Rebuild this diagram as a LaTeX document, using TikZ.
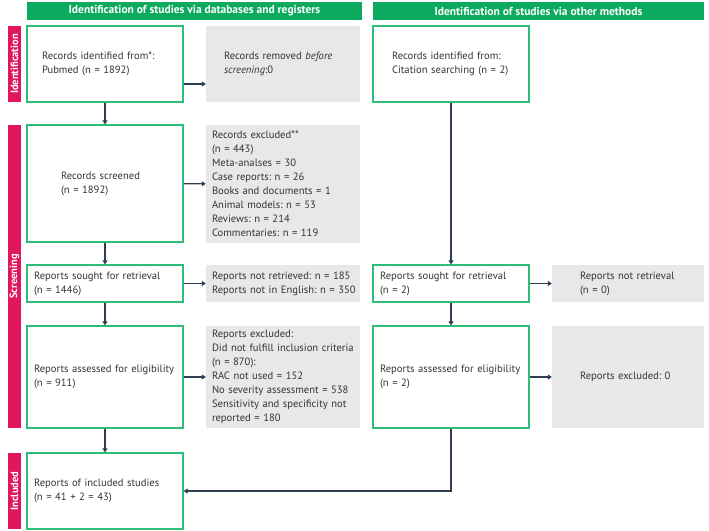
\documentclass[tikz,border=0pt]{standalone}
\usepackage{fontspec}
\setmainfont{PT Sans}
\usetikzlibrary{arrows.meta,calc}

\definecolor{hdrgreen}{HTML}{0BAA5E}
\definecolor{boxgreen}{HTML}{2EBD76}
\definecolor{stagepink}{HTML}{E0175F}
\definecolor{exclgray}{HTML}{E8E8E8}
\definecolor{arrowblue}{HTML}{2E3E4F}
\definecolor{textgray}{HTML}{333333}

\tikzset{
  flowbox/.style={draw=boxgreen, line width=1.2pt, fill=white, align=left,
    text=textgray, inner ysep=0pt, font=\fontsize{10.6}{14}\selectfont},
  grabox/.style={fill=exclgray, align=left, text=textgray, inner ysep=0pt,
    font=\fontsize{10.6}{14}\selectfont},
  header/.style={fill=hdrgreen, text=white, minimum height=18pt,
    font=\fontsize{11.5}{12}\selectfont\bfseries, inner sep=0pt},
  stage/.style={fill=stagepink, text=white, minimum height=13pt, rotate=90,
    font=\fontsize{10.5}{11}\selectfont\bfseries, inner sep=0pt},
  flow/.style={draw=arrowblue, line width=1.2pt, -{Triangle[width=5pt,length=4pt]}}
}

\begin{document}
\hyphenpenalty=10000
\frenchspacing
\begin{tikzpicture}[x=1pt, y=-1pt]
  \useasboundingbox (0,0) rectangle (709,530);

  % headers
  \node[header, minimum width=335pt] (hdrdb) at (194.5,11) {Identification of studies via databases and registers};
  \node[header, minimum width=331pt] (hdroth) at (538.5,11) {Identification of studies via other methods};

  % stages
  \node[stage, minimum width=76pt] (stid) at (14.5,64) {Identification};
  \node[stage, minimum width=303pt] (stscr) at (14.5,276.5) {Screening};
  \node[stage, minimum width=76pt] (stinc) at (14.5,491) {Included};

  % databases and registers
  \node[flowbox, minimum height=76pt, inner xsep=15pt, text width=126pt] (ident) at (105,64)
    {Records identified from*:\\Pubmed (n = 1892)};
  \node[grabox, minimum height=76pt, inner xsep=18pt, text width=118pt] (removed) at (283,64)
    {Records removed \emph{before}\\\emph{screening}:0};
  \node[flowbox, minimum height=117pt, inner xsep=34pt, text width=88pt] (screened) at (105,183.5)
    {Records screened\\(n = 1892)};
  \node[grabox, minimum height=118pt, inner xsep=6pt, text width=142pt] (excluded) at (283,184)
    {Records excluded**\\(n = 443)\\Meta-analses = 30\\Case reports: n = 26\\Books and documents = 1\\Animal models: n = 53\\Reviews: n = 214\\Commentaries: n = 119};
  \node[flowbox, minimum height=37pt, inner xsep=7pt, text width=142pt] (sought) at (105,283.5)
    {Reports sought for retrieval\\(n = 1446)};
  \node[grabox, minimum height=37pt, inner xsep=6pt, text width=142pt] (notret) at (283,283.5)
    {\mbox{Reports not retrieved: n = 185}\\\mbox{Reports not in English: n = 350}};
  \node[flowbox, minimum height=102pt, inner xsep=7pt, text width=142pt] (assessed) at (105,377)
    {Reports assessed for eligibility\\(n = 911)};
  \node[grabox, minimum height=102pt, inner xsep=6pt, text width=142pt] (repexcl) at (283,377)
    {Reports excluded:\\Did not fulfill inclusion criteria\\(n = 870):\\RAC not used = 152\\No severity assessment = 538\\Sensitivity and specificity not\\reported = 180};
  \node[flowbox, minimum height=76pt, inner xsep=7pt, text width=142pt] (included) at (105,491)
    {Reports of included studies\\(n = 41 + 2 = 43)};

  % other methods
  \node[flowbox, minimum height=76pt, inner xsep=19pt, text width=118pt] (citation) at (451,64)
    {Records identified from:\\Citation searching (n = 2)};
  \node[flowbox, minimum height=37pt, inner xsep=7pt, text width=142pt] (soughtoth) at (451,283.5)
    {Reports sought for retrieval\\(n = 2)};
  \node[grabox, minimum height=37pt, inner xsep=28pt, text width=96pt] (notretoth) at (628,283.5)
    {Reports not retrieval\\(n = 0)};
  \node[flowbox, minimum height=102pt, inner xsep=7pt, text width=142pt] (assessedoth) at (451,377)
    {Reports assessed for eligibility\\(n = 2)};
  \node[grabox, minimum height=102pt, inner xsep=28pt, text width=96pt] (repexcloth) at (628,377)
    {Reports excluded: 0};

  % arrows
  \draw[flow] ([yshift=-20pt]ident.east) -- ([yshift=-20pt]ident.east -| removed.west);
  \draw[flow] (ident) -- (screened);
  \draw[flow] (screened) -- (excluded);
  \draw[flow] (screened) -- (sought);
  \draw[flow] (sought) -- (notret);
  \draw[flow] (sought) -- (assessed);
  \draw[flow] (assessed) -- (repexcl);
  \draw[flow] (assessed) -- (included);
  \draw[flow] (citation) -- (soughtoth);
  \draw[flow] (soughtoth) -- (notretoth);
  \draw[flow] (soughtoth) -- (assessedoth);
  \draw[flow] (assessedoth) -- (repexcloth);
  \draw[flow] (assessedoth.south) |- (included.east);
\end{tikzpicture}
\end{document}
